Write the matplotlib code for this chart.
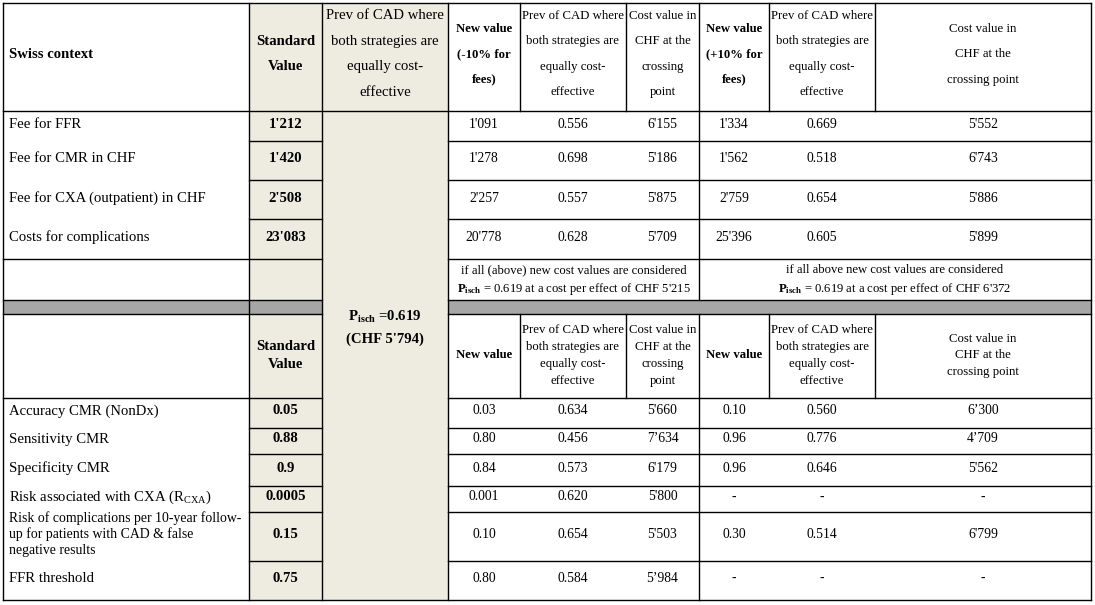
import matplotlib.pyplot as plt
from matplotlib.patches import Rectangle

plt.rcParams['font.family'] = ['Liberation Serif', 'DejaVu Serif']
plt.rcParams['mathtext.fontset'] = 'custom'
plt.rcParams['mathtext.rm'] = 'Liberation Serif'
plt.rcParams['mathtext.bf'] = 'Liberation Serif:bold'
plt.rcParams['mathtext.it'] = 'Liberation Serif:italic'

# table content
top_header = [["Swiss context"], ["Standard", "Value"],
              ["Prev of CAD where", "both strategies are", "equally cost-", "effective"],
              ["New value", "(-10% for", "fees)"],
              ["Prev of CAD where", "both strategies are", "equally cost-", "effective"],
              ["Cost value in", "CHF at the", "crossing", "point"],
              ["New value", "(+10% for", "fees)"],
              ["Prev of CAD where", "both strategies are", "equally cost-", "effective"],
              ["Cost value in", "CHF at the", "crossing point"]]
bot_header = [[""], ["Standard", "Value"], [""],
              ["New value"],
              ["Prev of CAD where", "both strategies are", "equally cost-", "effective"],
              ["Cost value in", "CHF at the", "crossing", "point"],
              ["New value"],
              ["Prev of CAD where", "both strategies are", "equally cost-", "effective"],
              ["Cost value in", "CHF at the", "crossing point"]]

fee_labels = ["Fee for FFR", "Fee for CMR in CHF", "Fee for CXA (outpatient) in CHF", "Costs for complications"]
fee_std = ["1'212", "1'420", "2'508", "23'083"]
fee_minus_new = ["1'091", "1'278", "2'257", "20'778"]
fee_minus_prev = ["0.556", "0.698", "0.557", "0.628"]
fee_minus_cost = ["6'155", "5'186", "5'875", "5'709"]
fee_plus_new = ["1'334", "1'562", "2'759", "25'396"]
fee_plus_prev = ["0.669", "0.518", "0.654", "0.605"]
fee_plus_cost = ["5'552", "6'743", "5'886", "5'899"]

summary_minus = [r"if all (above) new cost values are considered",
                 r"$\mathbf{P}_{\mathbf{isch}}$ = 0.619 at a cost per effect of CHF 5'215"]
summary_plus = [r"if all above new cost values are considered",
                r"$\mathbf{P}_{\mathbf{isch}}$ = 0.619 at a cost per effect of CHF 6'372"]
base_case = [r"$\mathbf{P}_{\mathbf{isch}}$ =0.619", "(CHF 5'794)"]

param_labels = [["Accuracy CMR (NonDx)"], ["Sensitivity CMR"], ["Specificity CMR"],
                [r"Risk associated with CXA (R$_{\mathrm{CXA}}$)"],
                ["Risk of complications per 10-year follow-", "up for patients with CAD & false",
                 "negative results"],
                ["FFR threshold"]]
param_std = ["0.05", "0.88", "0.9", "0.0005", "0.15", "0.75"]
low_new = ["0.03", "0.80", "0.84", "0.001", "0.10", "0.80"]
low_prev = ["0.634", "0.456", "0.573", "0.620", "0.654", "0.584"]
low_cost = ["5'660", "7\u2019634", "6'179", "5'800", "5'503", "5\u2019984"]
high_new = ["0.10", "0.96", "0.96", "-", "0.30", "-"]
high_prev = ["0.560", "0.776", "0.646", "-", "0.514", "-"]
high_cost = ["6\u2019300", "4\u2019709", "5'562", "-", "6'799", "-"]

# layout (pixels)
X = [3, 249, 322, 448, 520, 626, 699, 769, 875, 1091]
YT = [3, 111, 141, 180, 219, 259, 300]
YB = [314, 398, 428, 454, 486, 512, 561, 600]
BEIGE = '#eeece1'
GREY = '#a6a6a6'
FS_L = 10.6   # left part of the table
FS_R = 9.2    # right part looks narrower

fig = plt.figure(figsize=(10.95, 6.05), dpi=100)
ax = fig.add_axes([0, 0, 1, 1])
ax.set_xlim(0, 1095)
ax.set_ylim(605, 0)
ax.axis('off')

# fills
ax.add_patch(Rectangle((X[1], YT[0]), X[2] - X[1], YT[-1] - YT[0], color=BEIGE, lw=0))
ax.add_patch(Rectangle((X[1], YB[0]), X[2] - X[1], YB[-1] - YB[0], color=BEIGE, lw=0))
ax.add_patch(Rectangle((X[2], YT[0]), X[3] - X[2], YB[-1] - YT[0], color=BEIGE, lw=0))
ax.add_patch(Rectangle((X[0], YT[-1]), X[2] - X[0], YB[0] - YT[-1], color=GREY, lw=0))
ax.add_patch(Rectangle((X[3], YT[-1]), X[9] - X[3], YB[0] - YT[-1], color=GREY, lw=0))

LW = 1.0
def hline(y, x0, x1):
    ax.plot([x0, x1], [y, y], color='black', lw=LW, solid_capstyle='projecting')

def vline(x, y0, y1):
    ax.plot([x, x], [y0, y1], color='black', lw=LW, solid_capstyle='projecting')

# borders
hline(YT[0], X[0], X[9])
hline(YB[-1], X[0], X[9])
for x in [X[0], X[1], X[2], X[3], X[9]]:
    vline(x, YT[0], YB[-1])
vline(X[6], YT[0], YT[-1])
vline(X[6], YB[0], YB[-1])
for x in [X[4], X[5], X[7], X[8]]:
    vline(x, YT[0], YT[1])
    vline(x, YB[0], YB[1])
hline(YT[1], X[0], X[9])
for y in YT[2:5]:
    hline(y, X[1], X[2])
    hline(y, X[3], X[9])
for y in [YT[5], YT[6], YB[0], YB[1]]:
    hline(y, X[0], X[2])
    hline(y, X[3], X[9])
for y in YB[2:7]:
    hline(y, X[1], X[2])
    hline(y, X[3], X[9])


def put(x, yc, lines, gap, fs, ha='center', **kw):
    n = len(lines)
    for i, s in enumerate(lines):
        y = yc + (i - (n - 1) / 2) * gap
        ax.text(x, y, s, ha=ha, va='center', fontsize=fs, **kw)

cx = [(X[i] + X[i + 1]) / 2 for i in range(9)]
bold_cols = {1, 3, 6}

# top header
yc = (YT[0] + YT[1]) / 2 - 3
for i, lines in enumerate(top_header):
    w = 'bold' if (i in bold_cols or i == 0) else 'normal'
    fs = FS_L if i < 3 else FS_R
    if i == 0:
        put(X[0] + 6, yc, lines, 25.5, fs, ha='left', fontweight=w)
    else:
        put(cx[i], yc, lines, 25.5, fs, fontweight=w)

# fee rows
fee_cols = [fee_minus_new, fee_minus_prev, fee_minus_cost, fee_plus_new, fee_plus_prev, fee_plus_cost]
for r in range(4):
    yc = (YT[r + 1] + YT[r + 2]) / 2 - 1.5
    put(X[0] + 6, yc, [fee_labels[r]], 16, FS_L, ha='left')
    put(cx[1], yc, [fee_std[r]], 16, FS_L, fontweight='bold')
    for j, col in enumerate(fee_cols):
        put(cx[3 + j], yc, [col[r]], 16, FS_R + 0.6)

# summary row
yc = (YT[5] + YT[6]) / 2
put((X[3] + X[6]) / 2, yc, summary_minus, 19, FS_R - 0.1)
put((X[6] + X[9]) / 2, yc, summary_plus, 19, FS_R - 0.1)

# base case merged cell
put(cx[2], 328, base_case, 22, FS_L, fontweight='bold')

# bottom header
yc = (YB[0] + YB[1]) / 2 - 0.5
for i, lines in enumerate(bot_header):
    if lines == [""]:
        continue
    w = 'bold' if i in bold_cols else 'normal'
    fs = FS_L if i < 3 else FS_R
    put(cx[i], yc, lines, 17, fs, fontweight=w)

# parameter rows
par_cols = [low_new, low_prev, low_cost, high_new, high_prev, high_cost]
for r in range(6):
    yc = (YB[r + 1] + YB[r + 2]) / 2 - 2
    lfs = FS_L if len(param_labels[r]) == 1 else 9.9
    put(X[0] + 6, yc, param_labels[r], 16.3, lfs, ha='left')
    put(cx[1], yc, [param_std[r]], 16, FS_L, fontweight='bold')
    for j, col in enumerate(par_cols):
        put(cx[3 + j], yc, [col[r]], 16, FS_R + 0.6)

fig.savefig('out.png', dpi=100)
